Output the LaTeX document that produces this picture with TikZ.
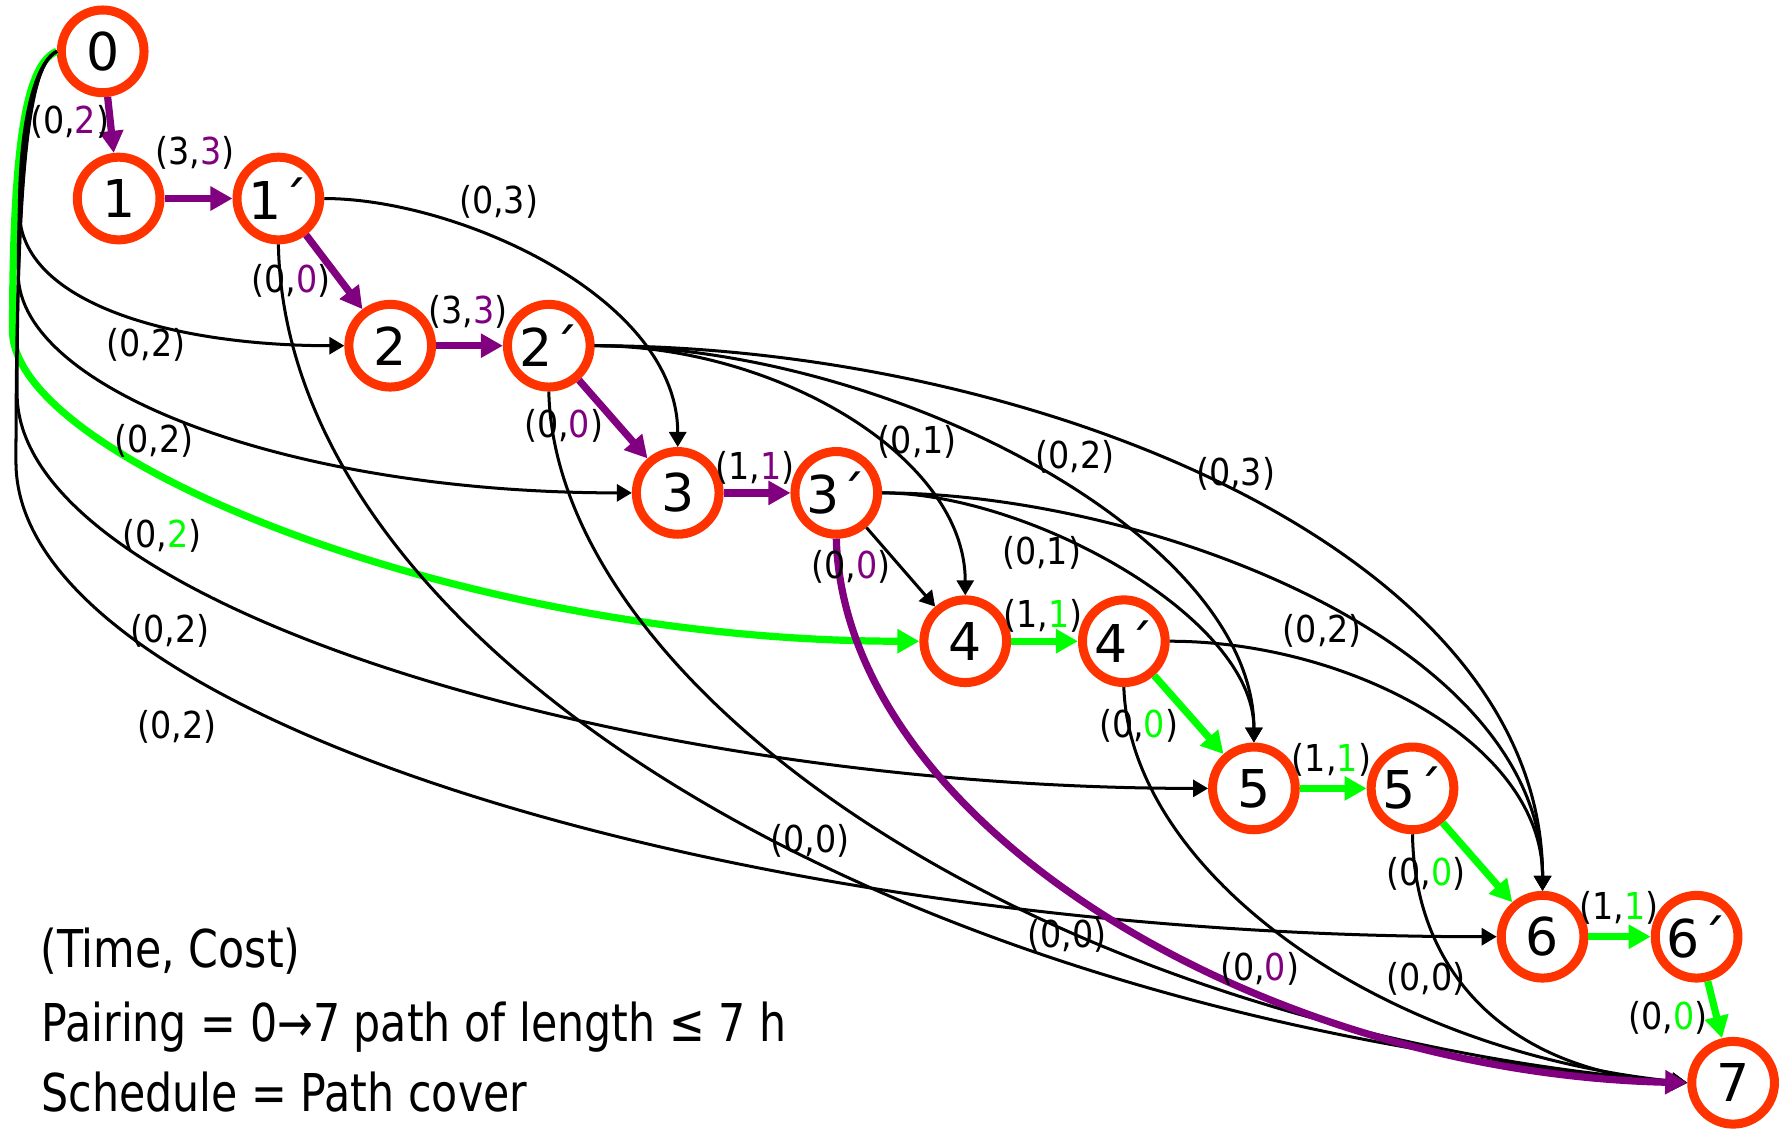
\documentclass[tikz,border=0pt]{standalone}
\usepackage{fontspec}
\setmainfont{DejaVu Sans}
\newfontfamily\lblfam{DejaVu Sans}[FakeStretch=0.9]
\newfontfamily\txtfam{DejaVu Sans}[FakeStretch=0.82]
\usetikzlibrary{arrows.meta}
\definecolor{ring}{RGB}{255,51,0}
\definecolor{pathpurple}{RGB}{128,0,128}
\definecolor{pathgreen}{RGB}{0,255,0}
\newcommand{\stfont}{\fontsize{26pt}{30pt}\selectfont}
\newcommand{\wfont}{\lblfam\fontsize{18.5pt}{22pt}\selectfont}
\newcommand{\tfont}{\txtfam\fontsize{26pt}{30pt}\selectfont}
\newcommand{\pu}[1]{\textcolor{pathpurple}{#1}}
\newcommand{\gr}[1]{\textcolor{pathgreen}{#1}}
\tikzset{
  stn/.style ={circle, draw=ring, fill=white, line width=4.5pt, minimum size=1.45cm, inner sep=0pt, font=\stfont},
  wt/.style  ={font=\wfont, inner sep=0pt},
  txt/.style ={font=\tfont, inner sep=0pt, anchor=base west},
  arc/.style ={draw=black, line width=1.5pt, -{Triangle[length=7.5pt,width=8.5pt]}},
  purp/.style={draw=pathpurple, line width=3.6pt, -{Triangle[length=11pt,width=11.5pt]}},
  grn/.style ={draw=pathgreen, line width=3.6pt, -{Triangle[length=11pt,width=11.5pt]}},
}
\begin{document}
\begin{tikzpicture}[x=0.02cm, y=-0.02cm]
  \useasboundingbox (0,0) rectangle (1568,990);
  % stations
  \node[stn] (n0)  at (90,45)   {0};
  \node[stn] (n1)  at (104,174) {1};
  \node[stn] (n1p) at (244,174) {1´};
  \node[stn] (n2)  at (342,303) {2};
  \node[stn] (n2p) at (481,303) {2´};
  \node[stn] (n3)  at (594,432) {3};
  \node[stn] (n3p) at (733,432) {3´};
  \node[stn] (n4)  at (846,562) {4};
  \node[stn] (n4p) at (985,562) {4´};
  \node[stn] (n5)  at (1099,691) {5};
  \node[stn] (n5p) at (1238,691) {5´};
  \node[stn] (n6)  at (1352,821) {6};
  \node[stn] (n6p) at (1487,821) {6´};
  \node[stn] (n7)  at (1519,949) {7};
  % green pairing, base leg
  \draw[grn] (n0.west) .. controls (26,55) and (11,110) .. (11,290) .. controls (11,400) and (400,562) .. (n4.west);
  % from the base
  \draw[arc] (n0.west) .. controls (30,55) and (17,110) .. (17,185) .. controls (17,265) and (150,303) .. (n2.west);
  \draw[arc] (n0.west) .. controls (30,55) and (16,110) .. (16,240) .. controls (16,340) and (250,432) .. (n3.west);
  \draw[arc] (n0.west) .. controls (30,55) and (15,110) .. (15,345) .. controls (15,530) and (550,691) .. (n5.west);
  \draw[arc] (n0.west) .. controls (30,55) and (14,110) .. (14,405) .. controls (14,630) and (650,821) .. (n6.west);
  % connections
  \draw[arc] (n1p.east) .. controls (400,174) and (594,260) .. (n3.north);
  \draw[arc] (n2p.east) .. controls (680,303) and (846,400) .. (n4.north);
  \draw[arc] (n2p.east) .. controls (780,303) and (1099,470) .. (n5.north);
  \draw[arc] (n2p.east) .. controls (900,303) and (1352,480) .. (n6.north);
  \draw[arc] (n3p) -- (n4);
  \draw[arc] (n3p.east) .. controls (900,432) and (1099,540) .. (n5.north);
  \draw[arc] (n3p.east) .. controls (1000,432) and (1352,560) .. (n6.north);
  \draw[arc] (n4p.east) .. controls (1180,562) and (1352,650) .. (n6.north);
  % to the end
  \draw[arc] (n1p.south) .. controls (250,560) and (760,890) .. (n7.west);
  \draw[arc] (n2p.south) .. controls (487,600) and (900,900) .. (n7.west);
  \draw[arc] (n4p.south) .. controls (990,760) and (1200,920) .. (n7.west);
  \draw[arc] (n5p.south) .. controls (1240,860) and (1330,940) .. (n7.west);
  % green pairing
  \draw[grn] (n4) -- (n4p);
  \draw[grn] (n4p) -- (n5);
  \draw[grn] (n5) -- (n5p);
  \draw[grn] (n5p) -- (n6);
  \draw[grn] (n6) -- (n6p);
  \draw[grn] (n6p) -- (n7);
  % purple pairing
  \draw[purp] (n0) -- (n1);
  \draw[purp] (n1) -- (n1p);
  \draw[purp] (n1p) -- (n2);
  \draw[purp] (n2) -- (n2p);
  \draw[purp] (n2p) -- (n3);
  \draw[purp] (n3) -- (n3p);
  \draw[purp] (n3p.south) .. controls (740,720) and (1100,940) .. (n7.west);
  % (time,cost)
  \node[wt] (w01)  at (61,107)   {(0,\pu{2})};
  \node[wt] (w11p) at (171,134)  {(3,\pu{3})};
  \node[wt] (w1p3) at (437,177)  {(0,3)};
  \node[wt] (w1p2) at (255,246)  {(0,\pu{0})};
  \node[wt] (w22p) at (410,273)  {(3,\pu{3})};
  \node[wt] (w02)  at (128,302)  {(0,2)};
  \node[wt] (w2p3) at (494,373)  {(0,\pu{0})};
  \node[wt] (w03)  at (135,386)  {(0,2)};
  \node[wt] (w33p) at (662,410)  {(1,\pu{1})};
  \node[wt] (w2p4) at (804,387)  {(0,1)};
  \node[wt] (w2p5) at (942,400)  {(0,2)};
  \node[wt] (w2p6) at (1083,415) {(0,3)};
  \node[wt] (w04)  at (142,470)  {(0,\gr{2})};
  \node[wt] (w3p7) at (746,497)  {(0,\pu{0})};
  \node[wt] (w3p5) at (913,485)  {(0,1)};
  \node[wt] (w44p) at (914,540)  {(1,\gr{1})};
  \node[wt] (w3p6) at (1159,553) {(0,2)};
  \node[wt] (w05)  at (149,553)  {(0,2)};
  \node[wt] (w4p5) at (998,636)  {(0,\gr{0})};
  \node[wt] (w55p) at (1167,666) {(1,\gr{1})};
  \node[wt] (w06)  at (155,637)  {(0,2)};
  \node[wt] (w1p7) at (710,737)  {(0,0)};
  \node[wt] (w5p6) at (1250,766) {(0,\gr{0})};
  \node[wt] (w66p) at (1419,796) {(1,\gr{1})};
  \node[wt] (w2p7) at (935,820)  {(0,0)};
  \node[wt] (w3p7b) at (1104,849) {(0,\pu{0})};
  \node[wt] (w4p7) at (1250,858) {(0,0)};
  \node[wt] (w6p7) at (1462,892) {(0,\gr{0})};
  % legend
  \node[txt] (tc) at (35,848) {(Time, Cost)};
  \node[txt] (pr) at (36,913) {Pairing = 0→7 path of length ≤ 7 h};
  \node[txt] (sc) at (36,974) {Schedule = Path cover};
\end{tikzpicture}
\end{document}
